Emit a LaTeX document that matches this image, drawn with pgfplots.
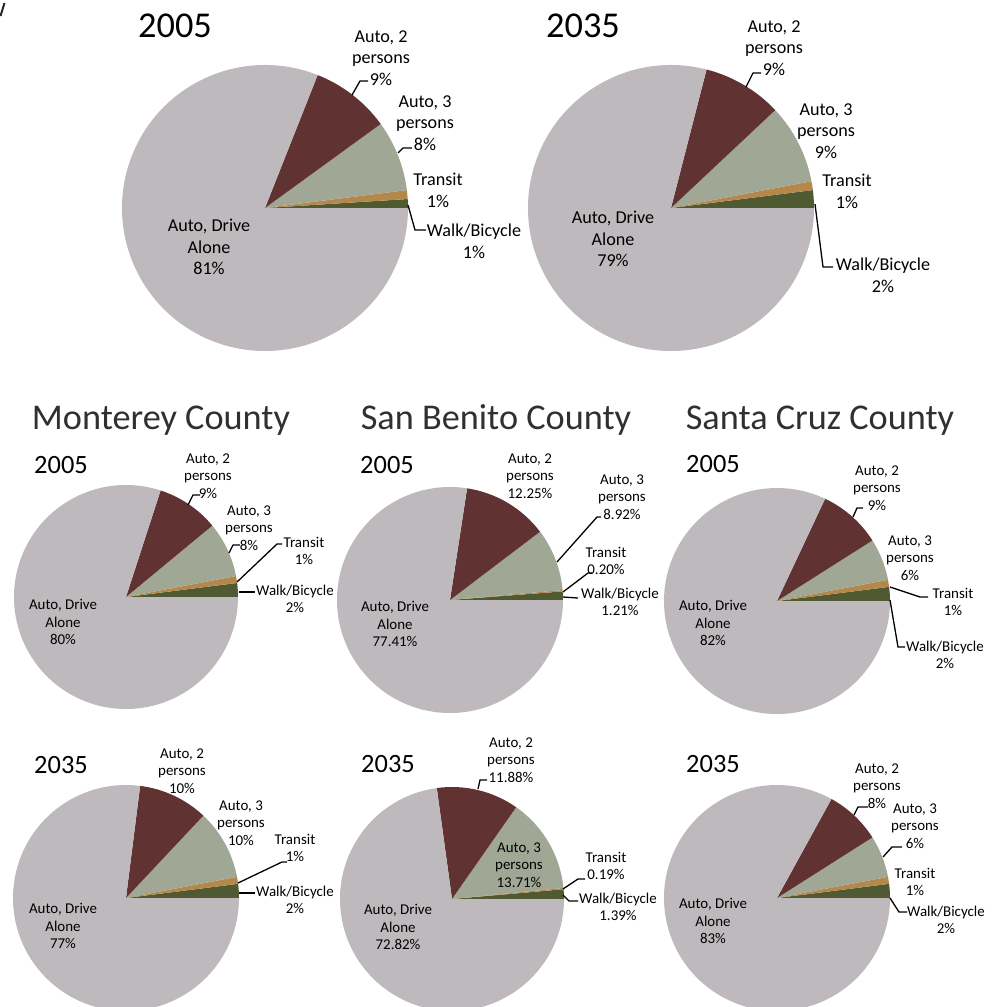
\documentclass[border=0pt]{standalone}
\usepackage{pgfplots}
\pgfplotsset{compat=1.18}
\usepackage{fontspec}
\setmainfont{Carlito}
\definecolor{cDrive}{HTML}{BEB9BC}
\definecolor{cAuto2}{HTML}{613232}
\definecolor{cAuto3}{HTML}{A0A794}
\definecolor{cTransit}{HTML}{B4874A}
\definecolor{cWalk}{HTML}{505A32}
\definecolor{cTitle}{HTML}{303030}
% one wedge: start %, end %, radius, colour
\newcommand{\wseg}[4]{\fill[#4] (axis cs:0,0) -- (axis cs:{#3*cos(3.6*(#1))},{#3*sin(3.6*(#1))}) arc[start angle={3.6*(#1)}, end angle={3.6*(#2)}, radius=#3bp] -- cycle;}
% pie: cx, cy (pixels from top), radius, walk, transit, auto3, auto2, drive alone
\newcommand{\pie}[8]{%
\begin{axis}[at={(#1,-#2)}, anchor=center, x=1bp, y=1bp,
  xmin=-#3, xmax=#3, ymin=-#3, ymax=#3, hide axis, clip=false]
\wseg{0}{#4}{#3}{cWalk}
\wseg{#4}{#4+#5}{#3}{cTransit}
\wseg{#4+#5}{#4+#5+#6}{#3}{cAuto3}
\wseg{#4+#5+#6}{#4+#5+#6+#7}{#3}{cAuto2}
\wseg{#4+#5+#6+#7}{#4+#5+#6+#7+#8}{#3}{cDrive}
\end{axis}}
\tikzset{
  lb/.style={align=center, inner sep=0pt, font=\fontsize{18.2}{21.8}\selectfont},
  ls/.style={align=center, inner sep=0pt, font=\fontsize{15}{17.5}\selectfont},
  lead/.style={line width=1.3bp, black},
  bigt/.style={anchor=base, inner sep=0pt, font=\fontsize{36.5}{40}\selectfont},
  cty/.style={anchor=base, inner sep=0pt, text=cTitle, font=\fontsize{36.4}{40}\selectfont},
  yr/.style={anchor=base, inner sep=0pt, font=\fontsize{26.5}{28}\selectfont},
}
\begin{document}
\begin{tikzpicture}[x=1bp,y=1bp]
\useasboundingbox (0,0) rectangle (1004,-1007);
% ---- pies (values in percent) ----
\pie{265}{208}{143}{1}{1}{8}{9}{81}
\pie{671}{208}{143}{2}{1}{9}{9}{79}
\pie{126}{597}{112}{2}{1}{8}{9}{80}
\pie{450}{600}{113}{1.21}{0.20}{8.92}{12.25}{77.41}
\pie{777}{601}{113}{2}{1}{6}{9}{82}
\pie{126}{898}{113}{2}{1}{10}{10}{77}
\pie{452}{899}{112}{1.39}{0.19}{13.71}{11.88}{72.82}
\pie{777}{898}{113}{2}{1}{6}{8}{83}
% stray mark at top-left corner
\draw[line width=2bp, black!85] (4.5,-3) -- (0.5,-16);
% ---- titles ----
\node[bigt] at (175,-37) {2005};
\node[bigt] at (583,-37) {2035};
\node[cty] at (161,-429) {Monterey County};
\node[cty] at (496,-429) {San Benito County};
\node[cty] at (820,-429) {Santa Cruz County};
\node[yr] at (61,-473) {2005};
\node[yr] at (387,-473) {2005};
\node[yr] at (713,-472) {2005};
\node[yr] at (61,-773) {2035};
\node[yr] at (388,-772) {2035};
\node[yr] at (713,-772) {2035};
% ---- top 2005 ----
\node[lb] at (381,-58) {Auto, 2\\persons\\9\%};
\node[lb] at (425,-123) {Auto, 3\\persons\\8\%};
\node[lb] at (438,-190) {Transit\\1\%};
\node[lb] at (474,-241) {Walk/Bicycle\\1\%};
\node[lb] at (209,-247) {Auto, Drive\\Alone\\81\%};
\draw[lead] (352,-95) -- (360,-81) -- (368,-81);
\draw[lead] (398,-153) -- (403,-148) -- (412,-148);
\draw[lead] (408,-205) -- (415,-230) -- (426,-230);
% ---- top 2035 ----
\node[lb] at (774,-48) {Auto, 2\\persons\\9\%};
\node[lb] at (826,-131) {Auto, 3\\persons\\9\%};
\node[lb] at (847,-191) {Transit\\1\%};
\node[lb] at (883,-275) {Walk/Bicycle\\2\%};
\node[lb] at (613,-239) {Auto, Drive\\Alone\\79\%};
\draw[lead] (746,-87) -- (753,-73) -- (761,-73);
\draw[lead] (815,-204) -- (823,-267) -- (833,-267);
% ---- Monterey 2005 ----
\node[ls] at (208,-476) {Auto, 2\\persons\\9\%};
\node[ls] at (249,-528) {Auto, 3\\persons\\8\%};
\node[ls] at (304,-551) {Transit\\1\%};
\node[ls] at (295,-599) {Walk/Bicycle\\2\%};
\node[ls] at (63,-622) {Auto, Drive\\Alone\\80\%};
\draw[lead] (188,-505) -- (193,-495) -- (200,-495);
\draw[lead] (229,-553) -- (233,-545) -- (240,-545);
\draw[lead] (237,-582) -- (277,-544) -- (282,-544);
\draw[lead] (239,-592) -- (255,-592);
% ---- San Benito 2005 ----
\node[ls] at (530,-476) {Auto, 2\\persons\\12.25\%};
\node[ls] at (622,-497) {Auto, 3\\persons\\8.92\%};
\node[ls] at (606,-561) {Transit\\0.20\%};
\node[ls] at (620,-602) {Walk/Bicycle\\1.21\%};
\node[ls] at (395,-624) {Auto, Drive\\Alone\\77.41\%};
\draw[lead] (557,-562) -- (597,-517) -- (601,-517);
\draw[lead] (563,-592) -- (588,-573) -- (592,-573);
\draw[lead] (563,-597) -- (578,-598);
% ---- Santa Cruz 2005 ----
\node[ls] at (877,-488) {Auto, 2\\persons\\9\%};
\node[ls] at (910,-558) {Auto, 3\\persons\\6\%};
\node[ls] at (953,-602) {Transit\\1\%};
\node[ls] at (945,-655) {Walk/Bicycle\\2\%};
\node[ls] at (713,-623) {Auto, Drive\\Alone\\82\%};
\draw[lead] (853,-517) -- (857,-508) -- (863,-508);
\draw[lead] (890,-587) -- (920,-597) -- (928,-597);
\draw[lead] (890,-600) -- (898,-647) -- (905,-647);
% ---- Monterey 2035 ----
\node[ls] at (182,-771) {Auto, 2\\persons\\10\%};
\node[ls] at (241,-823) {Auto, 3\\persons\\10\%};
\node[ls] at (295,-848) {Transit\\1\%};
\node[ls] at (295,-900) {Walk/Bicycle\\2\%};
\node[ls] at (63,-926) {Auto, Drive\\Alone\\77\%};
\draw[lead] (238,-883) -- (282,-862) -- (287,-862);
\draw[lead] (239,-893) -- (255,-893);
% ---- San Benito 2035 ----
\node[ls] at (511,-760) {Auto, 2\\persons\\11.88\%};
\node[ls] at (519,-865) {Auto, 3\\persons\\13.71\%};
\node[ls] at (606,-866) {Transit\\0.19\%};
\node[ls] at (618,-907) {Walk/Bicycle\\1.39\%};
\node[ls] at (398,-927) {Auto, Drive\\Alone\\72.82\%};
\draw[lead] (478,-789) -- (480,-780) -- (487,-780);
\draw[lead] (563,-889) -- (578,-879) -- (585,-879);
\draw[lead] (563,-895) -- (569,-901) -- (578,-901);
% ---- Santa Cruz 2035 ----
\node[ls] at (877,-786) {Auto, 2\\persons\\8\%};
\node[ls] at (915,-826) {Auto, 3\\persons\\6\%};
\node[ls] at (915,-882) {Transit\\1\%};
\node[ls] at (946,-920) {Walk/Bicycle\\2\%};
\node[ls] at (713,-921) {Auto, Drive\\Alone\\83\%};
\draw[lead] (854,-815) -- (858,-807) -- (868,-807);
\draw[lead] (883,-857) -- (892,-847) -- (902,-847);
\draw[lead] (890,-898) -- (899,-912) -- (907,-912);
\end{tikzpicture}
\end{document}
